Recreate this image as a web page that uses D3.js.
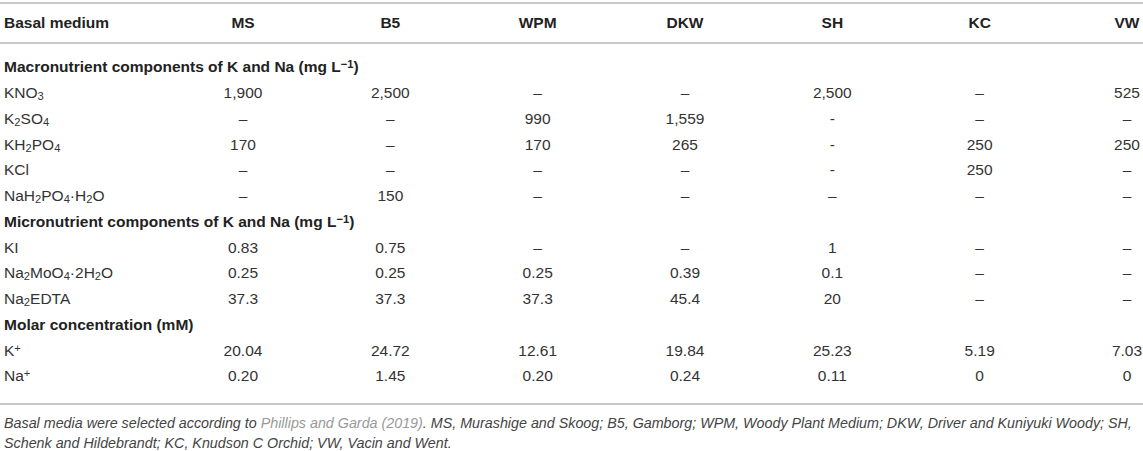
<!DOCTYPE html>
<html>
<head>
<meta charset="utf-8">
<script src="https://cdn.jsdelivr.net/npm/d3@7"></script>
<style>
  html, body { margin: 0; padding: 0; background: #fff; }
  svg text { font-family: "Liberation Sans", Arial, Helvetica, sans-serif; }
</style>
</head>
<body>
<svg id="table" width="1143" height="451"></svg>
<script>
document.addEventListener('DOMContentLoaded', function() {

  // Column headers
  const media = ["MS", "B5", "WPM", "DKW", "SH", "KC", "VW"];

  // Section titles ("_x" = subscript, "^x" = superscript)
  const sections = [
    "Macronutrient components of K and Na (mg L^−1)",
    "Micronutrient components of K and Na (mg L^−1)",
    "Molar concentration (mM)"
  ];

  // Macronutrients (mg L-1)
  const macroLabels = ["KNO_3", "K_2SO_4", "KH_2PO_4", "KCl", "NaH_2PO_4·H_2O"];
  const macroValues = [
    ["1,900", "2,500", "–", "–", "2,500", "–", "525"],
    ["–", "–", "990", "1,559", "-", "–", "–"],
    ["170", "–", "170", "265", "-", "250", "250"],
    ["–", "–", "–", "–", "-", "250", "–"],
    ["–", "150", "–", "–", "–", "–", "–"]
  ];

  // Micronutrients (mg L-1)
  const microLabels = ["KI", "Na_2MoO_4·2H_2O", "Na_2EDTA"];
  const microValues = [
    ["0.83", "0.75", "–", "–", "1", "–", "–"],
    ["0.25", "0.25", "0.25", "0.39", "0.1", "–", "–"],
    ["37.3", "37.3", "37.3", "45.4", "20", "–", "–"]
  ];

  // Molar concentration (mM)
  const molarLabels = ["K^+", "Na^+"];
  const molarValues = [
    ["20.04", "24.72", "12.61", "19.84", "25.23", "5.19", "7.03"],
    ["0.20", "1.45", "0.20", "0.24", "0.11", "0", "0"]
  ];

  const footnote = [
    [
      { t: "Basal media were selected according to " },
      { t: "Phillips and Garda (2019)", link: true },
      { t: ". MS, Murashige and Skoog; B5, Gamborg; WPM, Woody Plant Medium; DKW, Driver and Kuniyuki Woody; SH," }
    ],
    [
      { t: "Schenk and Hildebrandt; KC, Knudson C Orchid; VW, Vacin and Went." }
    ]
  ];

  // Build the row list: section title followed by its rows
  const rows = [];
  [[macroLabels, macroValues], [microLabels, microValues], [molarLabels, molarValues]]
    .forEach(([labels, values], i) => {
      rows.push({ type: "section", label: sections[i] });
      labels.forEach((l, j) => rows.push({ type: "row", label: l, values: values[j] }));
    });

  const svg = d3.select('#table');
  const width = 1143;
  const fontSize = 15.5;
  const left = 4;

  const x = d3.scalePoint().domain(media).range([243, 1127]);
  const y = d3.scalePoint().domain(d3.range(rows.length)).range([67, 376]);

  // Writes a label with sub/superscripts as tspans
  function richText(sel, str, size) {
    const parts = str.split(/([_^][^\s·]+?(?=[A-Z·\s)]|$))/).filter(p => p !== '');
    parts.forEach(p => {
      if (p[0] === '_' || p[0] === '^') {
        sel.append('tspan')
          .attr('font-size', size * 0.72)
          .attr('baseline-shift', p[0] === '_' ? '-22%' : '40%')
          .text(p.slice(1));
      } else {
        sel.append('tspan').text(p);
      }
    });
  }

  // Horizontal rules
  const rules = [3, 43, 404];
  svg.selectAll('line.rule')
    .data(rules)
    .enter()
    .append('line')
    .attr('class', 'rule')
    .attr('x1', 0)
    .attr('x2', width)
    .attr('y1', d => d)
    .attr('y2', d => d)
    .attr('stroke', '#c8c8c8')
    .attr('stroke-width', 2);

  // Header row
  const headY = 23;
  svg.append('text')
    .attr('x', left)
    .attr('y', headY)
    .attr('dy', '0.35em')
    .attr('font-size', fontSize)
    .attr('font-weight', 'bold')
    .attr('fill', '#222')
    .text('Basal medium');

  svg.selectAll('text.head')
    .data(media)
    .enter()
    .append('text')
    .attr('class', 'head')
    .attr('x', d => x(d))
    .attr('y', headY)
    .attr('dy', '0.35em')
    .attr('text-anchor', 'middle')
    .attr('font-size', fontSize)
    .attr('font-weight', 'bold')
    .attr('fill', '#222')
    .text(d => d);

  // Body rows
  const rowG = svg.selectAll('g.row')
    .data(rows)
    .enter()
    .append('g')
    .attr('class', 'row')
    .attr('transform', (d, i) => `translate(0,${y(i)})`);

  rowG.append('text')
    .attr('x', left)
    .attr('dy', '0.35em')
    .attr('font-size', fontSize)
    .attr('font-weight', d => d.type === 'section' ? 'bold' : 'normal')
    .attr('fill', d => d.type === 'section' ? '#222' : '#333')
    .each(function(d) { richText(d3.select(this), d.label, fontSize); });

  rowG.filter(d => d.type === 'row')
    .selectAll('text.val')
    .data(d => d.values.map((v, i) => ({ v: v, m: media[i] })))
    .enter()
    .append('text')
    .attr('class', 'val')
    .attr('x', d => x(d.m))
    .attr('dy', '0.35em')
    .attr('text-anchor', 'middle')
    .attr('font-size', fontSize)
    .attr('fill', '#333')
    .text(d => d.v);

  // Footnote
  const note = svg.selectAll('text.note')
    .data(footnote)
    .enter()
    .append('text')
    .attr('class', 'note')
    .attr('x', left)
    .attr('y', (d, i) => 423 + i * 20)
    .attr('dy', '0.35em')
    .attr('font-size', 14.3)
    .attr('font-style', 'italic')
    .attr('fill', '#444');

  note.selectAll('tspan')
    .data(d => d)
    .enter()
    .append('tspan')
    .attr('fill', d => d.link ? '#999' : null)
    .text(d => d.t);
});
</script>
</body>
</html>
